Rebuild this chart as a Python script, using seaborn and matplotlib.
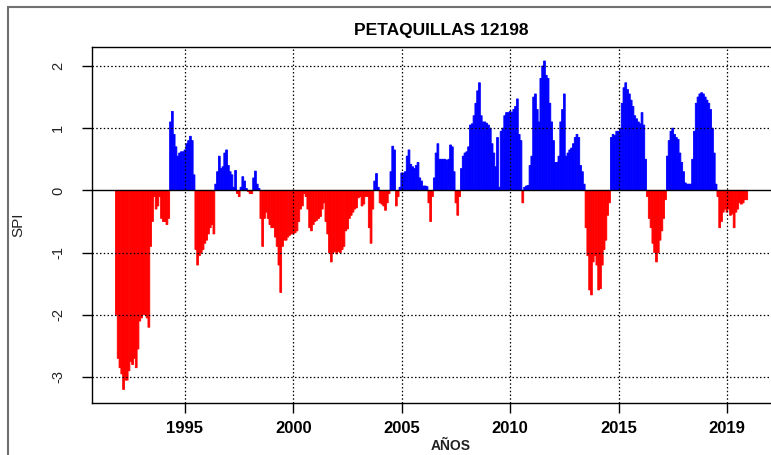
import numpy as np
import pandas as pd
import seaborn as sns
import matplotlib
matplotlib.use("Agg")
import matplotlib.pyplot as plt
from matplotlib.patches import Rectangle

# SPI mensual, estacion PETAQUILLAS 12198 (nov 1991 - dic 2020)
spi_1991 = [-2.0, -2.7]
spi_1992 = [-2.85, -2.95, -3.2, -3.05, -3.05, -2.9, -2.75, -2.8, -2.7, -2.85, -2.55, -2.1]
spi_1993 = [-2.05, -2.0, -2.0, -2.05, -2.2, -0.9, -0.5, -0.1, -0.3, -0.25, -0.1, -0.45]
spi_1994 = [-0.5, -0.5, -0.55, -0.45, 1.1, 1.27, 0.9, 0.7, 0.55, 0.6, 0.62, 0.62]
spi_1995 = [0.65, 0.75, 0.8, 0.87, 0.8, 0.25, -0.95, -1.2, -1.05, -1.0, -0.95, -0.85]
spi_1996 = [-0.8, -0.7, -0.6, -0.55, -0.7, 0.1, 0.3, 0.55, 0.35, 0.38, 0.6, 0.65]
spi_1997 = [0.4, 0.3, 0.25, 0.05, 0.32, -0.05, -0.1, 0.05, 0.22, 0.15, 0.03, -0.02]
spi_1998 = [-0.05, -0.05, 0.2, 0.31, 0.1, 0.03, -0.45, -0.9, -0.45, -0.35, -0.45, -0.55]
spi_1999 = [-0.6, -0.6, -0.75, -0.9, -1.2, -1.64, -0.9, -0.8, -0.8, -0.75, -0.72, -0.7]
spi_2000 = [-0.7, -0.68, -0.65, -0.5, -0.3, -0.25, -0.05, -0.1, -0.3, -0.6, -0.65, -0.55]
spi_2001 = [-0.5, -0.48, -0.45, -0.42, -0.3, -0.2, -0.5, -0.7, -1.0, -1.15, -1.0, -0.98]
spi_2002 = [-1.02, -0.98, -1.0, -0.95, -0.9, -0.65, -0.62, -0.45, -0.4, -0.35, -0.3, -0.28]
spi_2003 = [-0.12, -0.1, -0.25, -0.22, -0.1, -0.1, -0.6, -0.85, -0.3, 0.15, 0.27, 0.05]
spi_2004 = [-0.2, -0.22, -0.25, -0.32, -0.2, -0.05, 0.3, 0.71, 0.65, -0.25, -0.1, 0.05]
spi_2005 = [0.28, 0.28, 0.3, 0.55, 0.65, 0.42, 0.38, 0.35, 0.4, 0.45, 0.2, 0.15]
spi_2006 = [0.07, 0.07, 0.06, -0.2, -0.5, -0.1, 0.2, 0.6, 0.75, 0.5, 0.5, 0.5]
spi_2007 = [0.5, 0.48, 0.5, 0.73, 0.7, 0.3, -0.2, -0.4, -0.1, 0.35, 0.55, 0.6]
spi_2008 = [0.62, 0.7, 1.05, 1.07, 1.2, 1.4, 1.6, 1.73, 1.2, 1.1, 1.1, 1.08]
spi_2009 = [1.05, 1.0, 0.75, 0.6, 0.38, 0.85, 0.05, 0.95, 1.0, 1.2, 1.25, 1.25]
spi_2010 = [1.27, 1.25, 1.3, 1.35, 1.47, 0.9, 0.8, -0.2, 0.05, 0.07, 0.08, 0.4]
spi_2011 = [0.55, 1.5, 1.55, 1.3, 1.1, 1.8, 2.0, 2.08, 1.85, 1.8, 1.4, 1.1]
spi_2012 = [0.8, 0.45, 0.45, 0.55, 1.1, 1.3, 1.55, 0.55, 0.6, 0.65, 0.68, 0.75]
spi_2013 = [0.85, 0.9, 0.85, 0.4, 0.3, 0.1, -0.6, -1.05, -1.6, -1.68, -1.15, -1.05]
spi_2014 = [-1.2, -1.6, -1.58, -1.2, -0.95, -0.8, -0.4, -0.2, 0.85, 0.9, 0.88, 0.95]
spi_2015 = [0.95, 1.0, 1.4, 1.65, 1.73, 1.62, 1.55, 1.45, 1.35, 1.2, 1.15, 1.1]
spi_2016 = [1.07, 1.25, 1.05, 0.5, -0.1, -0.45, -0.6, -0.85, -1.0, -1.15, -1.0, -0.8]
spi_2017 = [-0.65, -0.45, -0.15, 0.55, 0.8, 0.95, 1.0, 0.9, 0.85, 0.82, 0.6, 0.45]
spi_2018 = [0.3, 0.12, 0.1, 0.1, 0.1, 0.5, 0.95, 1.4, 1.5, 1.55, 1.57, 1.55]
spi_2019 = [1.5, 1.45, 1.4, 1.3, 1.0, 0.6, 0.1, -0.1, -0.6, -0.5, -0.35, -0.3]
spi_2020 = [-0.35, -0.3, -0.4, -0.38, -0.6, -0.35, -0.3, -0.2, -0.22, -0.2, -0.15, -0.15]

start_year = 1991
start_month = 11

xtick_pos = [1995, 2000, 2005, 2010, 2015, 2020]
xtick_labels = ["1995", "2000", "2005", "2010", "2015", "2019"]
ytick_pos = [-3, -2, -1, 0, 1, 2]

titulo = "PETAQUILLAS 12198"

spi = np.array(spi_1991 + spi_1992 + spi_1993 + spi_1994 + spi_1995 + spi_1996
               + spi_1997 + spi_1998 + spi_1999 + spi_2000 + spi_2001 + spi_2002
               + spi_2003 + spi_2004 + spi_2005 + spi_2006 + spi_2007 + spi_2008
               + spi_2009 + spi_2010 + spi_2011 + spi_2012 + spi_2013 + spi_2014
               + spi_2015 + spi_2016 + spi_2017 + spi_2018 + spi_2019 + spi_2020)
t = start_year + (start_month - 1) / 12 + np.arange(len(spi)) / 12
df = pd.DataFrame({"t": t, "spi": spi, "signo": np.where(spi >= 0, "pos", "neg")})

sns.set_style("white")
plt.rcParams["font.family"] = ["Liberation Sans", "DejaVu Sans"]
plt.rcParams["text.color"] = "black"

W, H = 771, 455
fig = plt.figure(figsize=(W / 100, H / 100), dpi=100)
ax = fig.add_axes([92 / W, 1 - 402.5 / H, 680 / W, (402.5 - 47) / H])

sns.barplot(data=df, x="t", y="spi", hue="signo",
            palette={"pos": "#0000FF", "neg": "#FF0000"},
            native_scale=True, width=1.0, errorbar=None, legend=False,
            saturation=1, linewidth=0, ax=ax)
# cerrar las rendijas entre barras
for p in ax.patches:
    p.set_snap(False)
    p.set_edgecolor(p.get_facecolor())
    p.set_linewidth(0.6)

dotted = (0, (1.2, 1.8))
for yv in ytick_pos:
    if yv != 0:
        ax.axhline(yv, color="black", lw=0.9, ls=dotted, zorder=4)
for xv in xtick_pos:
    ax.axvline(xv, color="black", lw=0.9, ls=dotted, zorder=4)
ax.axhline(0, color="black", lw=1.0, zorder=5)

ax.set_xlim(1990.71, 2022.08)
ax.set_ylim(-3.41, 2.305)

ax.set_xticks(xtick_pos)
ax.set_xticklabels(xtick_labels, fontweight="bold", fontsize=12, color="black")
ax.set_yticks(ytick_pos)
ax.set_yticklabels([str(v) for v in ytick_pos], rotation=90, va="center",
                   fontsize=10.5, color="#222222")
ax.tick_params(axis="x", bottom=True, length=7.5, width=1, pad=6, color="black")
ax.tick_params(axis="y", left=True, length=7.5, width=1, pad=12, color="black")
ax.set_xlabel("")
ax.set_ylabel("")

for s in ["left", "top", "bottom"]:
    ax.spines[s].set_color("black")
    ax.spines[s].set_linewidth(1)
ax.spines["right"].set_visible(False)

fig.text(441 / W, 1 - 30 / H, titulo, ha="center", va="center",
         fontweight="bold", fontsize=12.5, color="black")
fig.text(451 / W, 1 - 446 / H, "AÑOS", ha="center", va="center",
         fontweight="bold", fontsize=10, color="#222222")
fig.text(18 / W, 1 - 225 / H, "SPI", ha="center", va="center",
         rotation=90, fontsize=11, color="#222222")

fig.patches.append(Rectangle((8 / W, -0.05), 1.2, 1.05 - 7 / H,
                             transform=fig.transFigure, fill=False,
                             edgecolor="#707070", lw=1.5))

fig.savefig("out.png", dpi=100)
